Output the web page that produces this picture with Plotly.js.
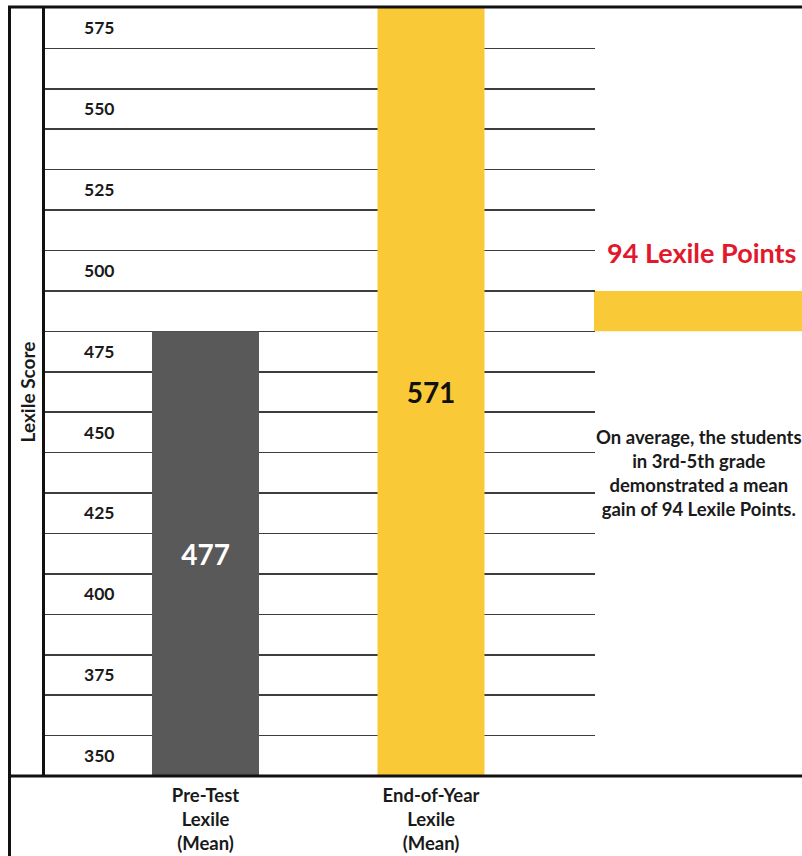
<!DOCTYPE html>
<html>
<head>
<meta charset="utf-8">
<script src="https://cdn.plot.ly/plotly-3.0.1.min.js"></script>
<style>html,body{margin:0;padding:0;background:#fff;overflow:hidden}#chart{width:802px;height:856px}</style>
</head>
<body>
<div id="chart"></div>
<script>
// ---- data ----
const categories = ['Pre-Test<br>Lexile<br>(Mean)', 'End-of-Year<br>Lexile<br>(Mean)'];
const meanScores = [477, 571];
const barColors = ['#595959', '#F9C938'];
const barTextColors = ['#ffffff', '#111111'];
const yTickLabels = ['350', '375', '400', '425', '450', '475', '500', '525', '550', '575'];
const gainLabel = '94 Lexile Points';
const noteLines = ['On average, the students', 'in 3rd-5th grade', 'demonstrated a mean', 'gain of 94 Lexile Points.'];
const yAxisTitle = 'Lexile Score';

// ---- geometry ----
const W = 802, H = 856, ML = 45, MR = 207, MT = 8, MB = 80;
const PW = W - ML - MR, PH = H - MT - MB;
const px2x = x => (x - ML) / PW;
const px2y = y => (H - MB - y) / PH;

const gain = meanScores[1] - meanScores[0];
const bands = 19;
const step = gain / 8;                 // 8 bands between the two means
const yHi = meanScores[1];
const yLo = yHi - bands * step;        // visible floor of the value axis
const gridVals = [];
for (let k = 1; k < bands; k++) gridVals.push(yLo + k * step);
const labelVals = yTickLabels.map((_, i) => yLo + (2 * i + 0.5) * step);

const font = 'Lato, "Open Sans", sans-serif';

// bars start at the visible axis floor and end at each mean score
const traces = categories.map((c, i) => ({
  type: 'bar',
  x: [c],
  base: [yLo],
  y: [meanScores[i] - yLo],
  width: 0.4745,
  marker: { color: barColors[i], line: { width: 0 } },
  text: [String(meanScores[i])],
  textposition: 'inside',
  insidetextanchor: 'middle',
  textangle: 0,
  textfont: { family: font, size: 28, color: barTextColors[i], weight: 'bold' },
  hoverinfo: 'skip'
}));

const annotations = [
  {
    text: '<b>' + gainLabel + '</b>', xref: 'paper', yref: 'paper',
    x: px2x(701), y: px2y(252), xanchor: 'center', yanchor: 'middle', showarrow: false,
    font: { family: font, size: 27, color: '#E2182C' }
  },
  {
    text: noteLines.map(t => '<b>' + t + '</b>').join('<br>'), xref: 'paper', yref: 'paper',
    x: px2x(699), y: px2y(473), xanchor: 'center', yanchor: 'middle', showarrow: false, align: 'center',
    font: { family: font, size: 18.5, color: '#1a1a1a' }
  }
];

const shapes = [
  // yellow band in the right panel
  { type: 'rect', xref: 'paper', yref: 'y', x0: px2x(594), x1: px2x(805), y0: meanScores[0], y1: meanScores[0] + step,
    fillcolor: barColors[1], line: { width: 0 }, layer: 'below' },
  // frame: top, left, baseline
  { type: 'line', xref: 'paper', yref: 'paper', x0: px2x(8), x1: px2x(805), y0: px2y(7), y1: px2y(7), line: { color: '#111', width: 3 } },
  { type: 'line', xref: 'paper', yref: 'paper', x0: px2x(9.5), x1: px2x(9.5), y0: px2y(6), y1: px2y(860), line: { color: '#111', width: 3 } },
  { type: 'line', xref: 'paper', yref: 'paper', x0: px2x(8), x1: px2x(805), y0: px2y(776), y1: px2y(776), line: { color: '#111', width: 3 } }
];

const layout = {
  width: W, height: H,
  margin: { l: ML, r: MR, t: MT, b: MB, pad: 0 },
  paper_bgcolor: '#ffffff', plot_bgcolor: '#ffffff',
  showlegend: false,
  barmode: 'overlay',
  xaxis: {
    type: 'category', categoryorder: 'array', categoryarray: categories,
    range: [-0.7118, 1.7273], fixedrange: true,
    showgrid: false, zeroline: false, showline: false, ticks: '',
    ticklabelstandoff: 6,
    tickfont: { family: font, size: 18.5, color: '#1a1a1a', weight: 'bold' },
    automargin: false
  },
  yaxis: {
    range: [yLo, yHi], tickmode: 'array', tickvals: gridVals, showticklabels: false,
    ticks: '', showgrid: true, gridcolor: '#3d3d3d', gridwidth: 1.6, zeroline: false,
    showline: true, linecolor: '#111', linewidth: 3,
    title: { text: '<b>' + yAxisTitle + '</b>', font: { family: font, size: 19, color: '#1a1a1a' }, standoff: 2 },
    automargin: false, fixedrange: true
  },
  yaxis2: {
    overlaying: 'y', side: 'left', range: [yLo, yHi], tickmode: 'array',
    tickvals: labelVals, ticktext: yTickLabels, ticklabelposition: 'inside',
    ticklabelstandoff: 36, ticks: '', showgrid: false, zeroline: false, showline: false,
    tickfont: { family: font, size: 17.5, color: '#1a1a1a', weight: 'bold' },
    automargin: false, fixedrange: true
  },
  shapes: shapes,
  annotations: annotations
};

// invisible trace so the label axis is drawn
const dummy = { type: 'scatter', x: [categories[0]], y: [yLo], yaxis: 'y2', mode: 'markers', marker: { opacity: 0 }, hoverinfo: 'skip', showlegend: false };

Plotly.newPlot('chart', traces.concat([dummy]), layout, { displayModeBar: false, staticPlot: true });
</script>
</body>
</html>
